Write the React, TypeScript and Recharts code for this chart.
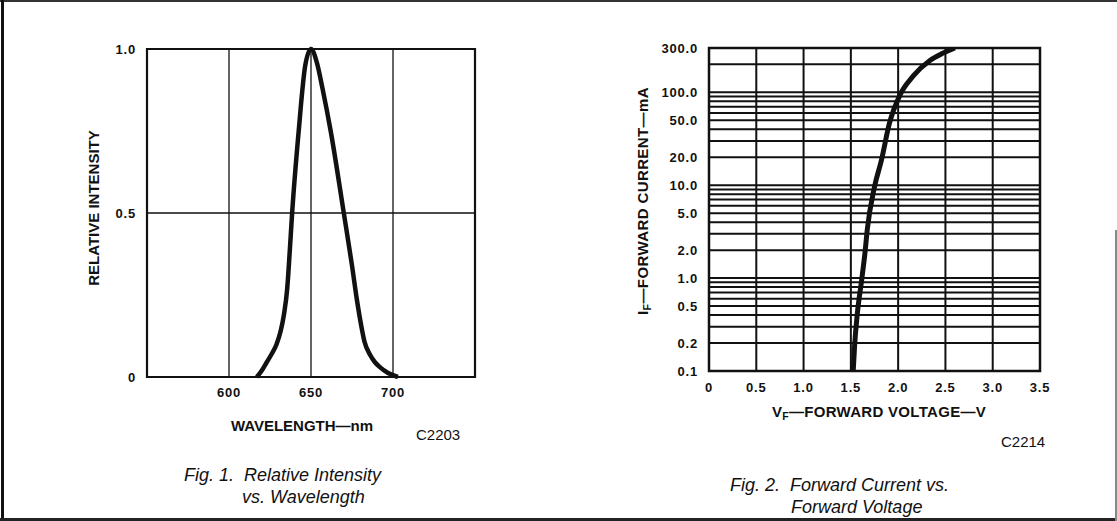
import React from 'react';
import { LineChart, Line, XAxis, YAxis, CartesianGrid, ReferenceArea, ReferenceLine } from 'recharts';

// Fig. 1 - relative intensity vs wavelength
const wavelengthNm = [617, 620, 623, 626, 629, 631.5, 633.5, 635.5, 637, 638.5, 642.5, 646.5, 650, 653.5, 657, 662, 670, 675, 678, 680.5, 682.5, 686, 689, 692, 697, 703];
const relIntensity = [0, 0.02, 0.045, 0.07, 0.1, 0.14, 0.19, 0.27, 0.38, 0.5, 0.75, 0.95, 1.0, 0.96, 0.88, 0.75, 0.5, 0.34, 0.235, 0.16, 0.11, 0.068, 0.045, 0.03, 0.012, 0];
const wavelengthTicks = [550, 600, 650, 700, 750];
const intensityTicks = [0, 0.5, 1];

// Fig. 2 - forward current vs forward voltage
const forwardVolts = [1.525, 1.54, 1.568, 1.614, 1.649, 1.674, 1.748, 1.825, 1.906, 2.02, 2.16, 2.336, 2.46, 2.6];
const forwardMilliamps = [0.1, 0.19, 0.41, 0.95, 1.86, 3.35, 9.4, 18.9, 45.7, 94, 150, 220, 260, 300];
const voltTicks = [0, 0.5, 1, 1.5, 2, 2.5, 3, 3.5];
const currentTicks = [0.1, 0.2, 0.5, 1, 2, 5, 10, 20, 50, 100, 200, 300];
const currentGrid = [
  0.2, 0.3, 0.4, 0.5, 0.6, 0.7, 0.8, 0.9,
  1, 2, 3, 4, 5, 6, 7, 8, 9,
  10, 20, 30, 40, 50, 60, 70, 80, 90,
  100, 200,
];

const spectrum = wavelengthNm.map((nm, i) => ({ nm, rel: relIntensity[i] }));
const ivCurve = forwardVolts.map((v, i) => ({ v, ma: forwardMilliamps[i] }));

const FONT = '"Liberation Sans", Arial, Helvetica, sans-serif';
const INK = '#111';

const Txt: React.FC<{
  x: number; y: number; size: number; bold?: boolean; italic?: boolean;
  center?: boolean; rotate?: boolean; spacing?: number; children: React.ReactNode;
}> = ({ x, y, size, bold, italic, center, rotate, spacing, children }) => (
  <div
    style={{
      position: 'absolute',
      left: x,
      top: y,
      fontFamily: FONT,
      fontSize: size,
      fontWeight: bold ? 700 : 400,
      fontStyle: italic ? 'italic' : 'normal',
      letterSpacing: spacing ?? 0,
      color: INK,
      lineHeight: 1,
      whiteSpace: 'nowrap',
      transform: rotate
        ? 'translate(-50%, -50%) rotate(-90deg)'
        : center ? 'translate(-50%, -50%)' : 'translateY(-50%)',
    }}
  >
    {children}
  </div>
);

const sub = (s: string) => (
  <span style={{ fontSize: '0.7em', verticalAlign: '-0.3em' }}>{s}</span>
);

const tickStyle = (size: number) => ({
  fontFamily: FONT, fontWeight: 700, fontSize: size, fill: INK, letterSpacing: 0.8,
});

export default function App() {
  return (
    <div style={{ position: 'absolute', left: 0, top: 0, width: 1117, height: 521, background: '#fff', overflow: 'hidden' }}>
      {/* page frame */}
      <div style={{ position: 'absolute', left: 0, top: 0, width: 1117, height: 1.5, background: '#333' }} />
      <div style={{ position: 'absolute', left: 1, top: 0, width: 3, height: 521, background: INK }} />
      <div style={{ position: 'absolute', left: 0, top: 518, width: 1117, height: 3, background: '#222' }} />
      <div style={{ position: 'absolute', left: 1115, top: 230, width: 1.5, height: 291, background: '#888' }} />

      {/* Fig. 1 */}
      <div style={{ position: 'absolute', left: 0, top: 0 }}>
        <LineChart width={560} height={521} data={spectrum} margin={{ top: 49, left: 87, right: 85, bottom: 114 }}>
          <CartesianGrid stroke={INK} strokeWidth={1.3} />
          <XAxis
            dataKey="nm"
            type="number"
            domain={[550, 750]}
            ticks={wavelengthTicks}
            tickFormatter={(v: number) => (v === 550 || v === 750 ? '' : String(v))}
            axisLine={false}
            tickLine={false}
            tickSize={0}
            tickMargin={11}
            height={30}
            tick={tickStyle(13)}
          />
          <YAxis
            type="number"
            domain={[0, 1]}
            ticks={intensityTicks}
            tickFormatter={(v: number) => (v === 0 ? '0' : v.toFixed(1))}
            axisLine={false}
            tickLine={false}
            tickSize={0}
            tickMargin={11}
            width={60}
            tick={tickStyle(13)}
          />
          <ReferenceArea x1={550} x2={750} y1={0} y2={1} fill="none" stroke={INK} strokeWidth={2.2} />
          <Line dataKey="rel" type="monotone" stroke={INK} strokeWidth={4.5} dot={false} isAnimationActive={false} />
        </LineChart>
      </div>

      {/* Fig. 2 */}
      <div style={{ position: 'absolute', left: 560, top: 0 }}>
        <LineChart width={557} height={521} data={ivCurve} margin={{ top: 48, left: 89, right: 77, bottom: 120 }}>
          <CartesianGrid stroke={INK} strokeWidth={2} horizontal={false} />
          <XAxis
            dataKey="v"
            type="number"
            domain={[0, 3.5]}
            ticks={voltTicks}
            tickFormatter={(v: number) => (v === 0 ? '0' : v.toFixed(1))}
            axisLine={false}
            tickLine={false}
            tickSize={0}
            tickMargin={12}
            height={30}
            tick={tickStyle(13)}
          />
          <YAxis
            type="number"
            scale="log"
            domain={[0.1, 300]}
            allowDataOverflow
            ticks={currentTicks}
            tickFormatter={(v: number) => v.toFixed(1)}
            axisLine={false}
            tickLine={false}
            tickSize={0}
            tickMargin={11}
            width={60}
            tick={tickStyle(13)}
          />
          {currentGrid.map((c) => (
            <ReferenceLine key={c} y={c} stroke={INK} strokeWidth={2} />
          ))}
          <ReferenceArea x1={0} x2={3.5} y1={0.1} y2={300} fill="none" stroke={INK} strokeWidth={2.5} />
          <Line dataKey="ma" type="monotone" stroke={INK} strokeWidth={5} dot={false} isAnimationActive={false} />
        </LineChart>
      </div>

      {/* Fig. 1 labels */}
      <Txt x={93} y={208} size={15} bold rotate>RELATIVE INTENSITY</Txt>
      <Txt x={302} y={425} size={15} bold center>WAVELENGTH—nm</Txt>
      <Txt x={416} y={434} size={15}>C2203</Txt>
      <Txt x={184} y={475} size={18} italic>Fig. 1.&nbsp;&nbsp;Relative Intensity</Txt>
      <Txt x={242} y={497} size={18} italic>vs. Wavelength</Txt>

      {/* Fig. 2 labels */}
      <Txt x={644} y={201} size={15} bold rotate spacing={0.4}>I{sub('F')}—FORWARD CURRENT—mA</Txt>
      <Txt x={879} y={413} size={15} bold center spacing={0.3}>V{sub('F')}—FORWARD VOLTAGE—V</Txt>
      <Txt x={1001} y={441} size={15}>C2214</Txt>
      <Txt x={730} y={485} size={18} italic>Fig. 2.&nbsp;&nbsp;Forward Current vs.</Txt>
      <Txt x={791} y={507} size={18} italic>Forward Voltage</Txt>
    </div>
  );
}
